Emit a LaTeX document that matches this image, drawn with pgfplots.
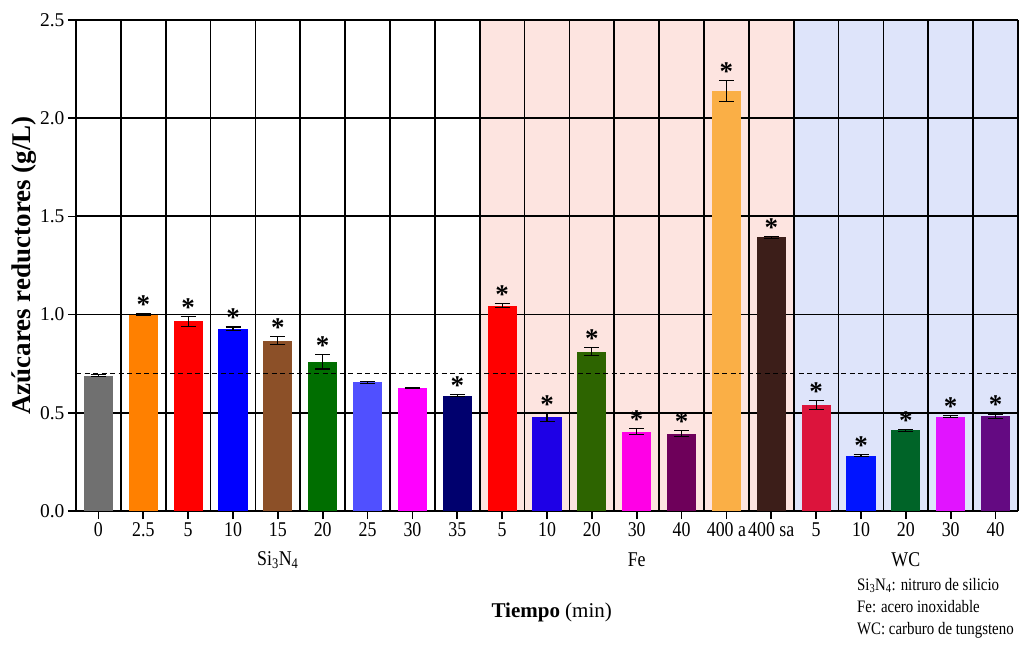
\documentclass[border=0pt]{standalone}
\usepackage{pgfplots}
\pgfplotsset{compat=1.18}
\usepackage{fontspec}
\setmainfont{Liberation Serif}
\newfontfamily\condfont{Liberation Serif}[FakeStretch=0.85]
\usetikzlibrary{calc}

\definecolor{fepink}{RGB}{253,228,224}
\definecolor{wcblue}{RGB}{222,228,250}
\definecolor{c0}{RGB}{112,112,112}
\definecolor{c1}{RGB}{255,128,0}
\definecolor{c2}{RGB}{255,0,0}
\definecolor{c3}{RGB}{0,0,255}
\definecolor{c4}{RGB}{140,80,40}
\definecolor{c5}{RGB}{0,110,0}
\definecolor{c6}{RGB}{80,80,255}
\definecolor{c7}{RGB}{255,0,255}
\definecolor{c8}{RGB}{0,0,110}
\definecolor{c9}{RGB}{255,0,0}
\definecolor{c10}{RGB}{30,0,230}
\definecolor{c11}{RGB}{45,100,0}
\definecolor{c12}{RGB}{255,0,230}
\definecolor{c13}{RGB}{110,0,90}
\definecolor{c14}{RGB}{250,175,70}
\definecolor{c15}{RGB}{60,30,25}
\definecolor{c16}{RGB}{220,20,60}
\definecolor{c17}{RGB}{0,20,255}
\definecolor{c18}{RGB}{0,100,40}
\definecolor{c19}{RGB}{225,20,255}
\definecolor{c20}{RGB}{100,10,130}

\newcommand{\onebar}[4]{%
  \addplot[ybar, bar width=0.65, bar shift=0pt, fill=#1, draw=none,
    error bars/.cd, y dir=both, y explicit,
    error bar style={black, line width=1.1pt},
    error mark options={rotate=90, mark size=7.5pt, black, line width=1.1pt}]
    coordinates {(#2,#3) +- (0,#4)};}

\begin{document}
\begin{tikzpicture}
\begin{axis}[
  name=ax,
  width=942pt, height=491pt, scale only axis,
  xmin=-0.5, xmax=20.5, ymin=0, ymax=2.5,
  clip=false,
  set layers,
  xtick={0,1,2,3,4,5,6,7,8,9,10,11,12,13,14,15,16,17,18,19,20},
  xticklabels={0,2.5,5,10,15,20,25,30,35,5,10,20,30,40,400 a,400 sa,5,10,20,30,40},
  ytick={0,0.5,1,1.5,2,2.5},
  minor xtick={0.5,1.5,2.5,3.5,4.5,5.5,6.5,7.5,8.5,9.5,10.5,11.5,12.5,13.5,14.5,15.5,16.5,17.5,18.5,19.5,20.5},
  xminorgrids=true, xmajorgrids=false, ymajorgrids=true,
  grid style={black, line width=1.8pt},
  minor grid style={black, line width=1.8pt},
  axis x line*=bottom, axis y line*=left,
  axis line style={black, line width=1.8pt},
  major tick style={black, line width=1.6pt},
  major tick length=8pt, minor tick length=0pt,
  tick align=outside,
  /pgf/number format/assume math mode=true,
  yticklabel style={font=\fontsize{19.5}{19.5}\selectfont, /pgf/number format/.cd, fixed, fixed zerofill, precision=1},
  xticklabel style={font=\condfont\fontsize{21}{21}\selectfont},
  xlabel={\textbf{Tiempo} (min)},
  xlabel style={at={(axis description cs:0.505,-0.206)}, anchor=center, font=\fontsize{21}{21}\selectfont},
  ylabel={\textbf{Azúcares reductores (g/L)}},
  ylabel style={at={(axis description cs:-0.055,0.5)}, anchor=center, font=\fontsize{27}{27}\selectfont},
]
% shaded regions
\addplot[fill=fepink, draw=none, on layer=axis background, forget plot]
  coordinates {(8.5,0) (15.5,0) (15.5,2.5) (8.5,2.5)} -- cycle;
\addplot[fill=wcblue, draw=none, on layer=axis background, forget plot]
  coordinates {(15.5,0) (20.5,0) (20.5,2.5) (15.5,2.5)} -- cycle;

% bars: color, position, value, error
\onebar{c0}{0}{0.689}{0.005}
\onebar{c1}{1}{1.000}{0.003}
\onebar{c2}{2}{0.966}{0.025}
\onebar{c3}{3}{0.927}{0.010}
\onebar{c4}{4}{0.867}{0.020}
\onebar{c5}{5}{0.760}{0.037}
\onebar{c6}{6}{0.655}{0.005}
\onebar{c7}{7}{0.628}{0.003}
\onebar{c8}{8}{0.586}{0.005}
\onebar{c9}{9}{1.045}{0.010}
\onebar{c10}{10}{0.477}{0.020}
\onebar{c11}{11}{0.811}{0.020}
\onebar{c12}{12}{0.404}{0.015}
\onebar{c13}{13}{0.394}{0.015}
\onebar{c14}{14}{2.140}{0.053}
\onebar{c15}{15}{1.394}{0.005}
\onebar{c16}{16}{0.540}{0.021}
\onebar{c17}{17}{0.282}{0.005}
\onebar{c18}{18}{0.411}{0.005}
\onebar{c19}{19}{0.479}{0.005}
\onebar{c20}{20}{0.482}{0.012}

% reference line
\addplot[black, line width=1.6pt, dash pattern=on 5pt off 3.5pt]
  coordinates {(-0.5,0.70) (20.5,0.70)};

% significance asterisks (top of error bar)
\addplot[only marks, mark=none, draw=none,
  nodes near coords={\bfseries *},
  nodes near coords style={anchor=south, inner sep=0pt, yshift=0pt, font=\fontsize{27}{27}\selectfont}]
  coordinates {(1,1.003) (2,0.991) (3,0.937) (4,0.887) (5,0.797) (8,0.591)
    (9,1.055) (10,0.497) (11,0.831) (12,0.419) (13,0.409) (14,2.193) (15,1.399)
    (16,0.561) (17,0.287) (18,0.416) (19,0.484) (20,0.494)};

% group labels
\node[font=\condfont\fontsize{21}{21}\selectfont] at (axis cs:4,0) [yshift=-49pt] {Si\textsubscript{3}N\textsubscript{4}};
\node[font=\condfont\fontsize{21}{21}\selectfont] at (axis cs:12,0) [yshift=-49pt] {Fe};
\node[font=\condfont\fontsize{21}{21}\selectfont] at (axis cs:18,0) [yshift=-49pt] {WC};

% note
\node[anchor=north west, align=left, inner sep=0pt, font=\condfont\fontsize{17.5}{22.3}\selectfont]
  at (axis description cs:0.829,-0.136)
  {Si\textsubscript{3}N\textsubscript{4}: nitruro de silicio\\
   Fe: acero inoxidable\\
   WC: carburo de tungsteno};
\end{axis}
\pgfresetboundingbox
\path[use as bounding box] ($(ax.south west)+(-76pt,-136pt)$) rectangle ($(ax.north east)+(3pt,20pt)$);
\end{tikzpicture}
\end{document}
